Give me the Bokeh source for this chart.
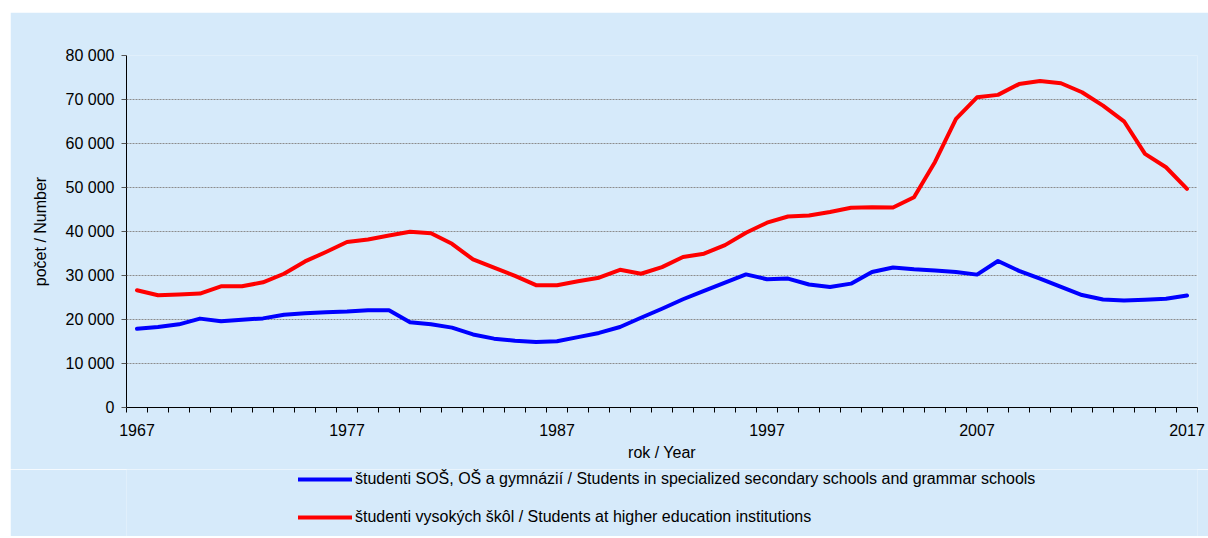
from bokeh.plotting import figure
from bokeh.layouts import column
from bokeh.models import Range1d, FixedTicker, Legend, LegendItem
from bokeh.embed import file_html
from bokeh.resources import INLINE

# ---- data ----
years = list(range(1967, 2018))
secondary = [17900, 18300, 18900, 20200, 19600, 19950, 20250, 21100, 21400, 21650,
             21800, 22100, 22100, 19400, 18900, 18150, 16600, 15650, 15150, 14900,
             15050, 16000, 16950, 18300, 20400, 22450, 24600, 26500, 28400, 30250,
             29150, 29300, 27950, 27400, 28150, 30800, 31800, 31400, 31150, 30800,
             30200, 33300, 31050, 29300, 27400, 25550, 24550, 24300, 24500, 24700,
             25450]
higher = [26650, 25500, 25700, 25900, 27550, 27550, 28450, 30400, 33200, 35350,
          37600, 38200, 39100, 39950, 39600, 37200, 33650, 31800, 29900, 27800,
          27800, 28700, 29500, 31300, 30400, 31900, 34200, 34950, 36900, 39700,
          42000, 43400, 43650, 44450, 45400, 45500, 45450, 47800, 55800, 65600,
          70500, 71050, 73500, 74200, 73700, 71650, 68600, 65050, 57650, 54600,
          49700]
x_label_years = [1967, 1977, 1987, 1997, 2007, 2017]
y_ticks = [0, 10000, 20000, 30000, 40000, 50000, 60000, 70000, 80000]
y_tick_labels = ["0", "10 000", "20 000", "30 000", "40 000", "50 000",
                 "60 000", "70 000", "80 000"]
series_names = [
    "študenti SOŠ, OŠ a gymnázií / Students in specialized secondary schools and grammar schools",
    "študenti vysokých škôl / Students at higher education institutions",
]
series_colors = ["#0000FF", "#FF0000"]
x_title = "rok / Year"
y_title = "počet / Number"

# ---- style ----
BG = "#D6EAFA"
FONT = "Liberation Sans"
FS = "16px"

p = figure(frame_width=1071, frame_height=352,
           x_range=Range1d(years[0] - 0.5, years[-1] + 0.5),
           y_range=Range1d(y_ticks[0], y_ticks[-1]),
           output_backend="svg", toolbar_location=None,
           min_border_left=116, min_border_right=11,
           min_border_top=43, min_border_bottom=62,
           background_fill_color=BG, border_fill_color=BG,
           outline_line_color=None, margin=(12, 0, 0, 10))

# x axis
xa = p.xaxis[0]
xa.ticker = FixedTicker(ticks=x_label_years,
                        minor_ticks=[y - 0.5 for y in years] + [years[-1] + 0.5])
xa.major_tick_out = 0
xa.major_tick_in = 0
xa.minor_tick_out = 5
xa.minor_tick_in = 0
xa.minor_tick_line_color = "black"
xa.axis_line_color = "black"
xa.major_label_standoff = 11
xa.major_label_text_font = FONT
xa.major_label_text_font_size = FS
xa.major_label_text_color = "black"
xa.axis_label = x_title
xa.axis_label_text_font = FONT
xa.axis_label_text_font_size = FS
xa.axis_label_text_font_style = "normal"
xa.axis_label_text_color = "black"
xa.axis_label_standoff = 5

# y axis
ya = p.yaxis[0]
ya.ticker = FixedTicker(ticks=y_ticks)
ya.major_label_overrides = {t: l for t, l in zip(y_ticks, y_tick_labels)}
ya.major_tick_out = 5
ya.major_tick_in = 0
ya.major_tick_line_color = "#555555"
ya.minor_tick_out = 0
ya.minor_tick_in = 0
ya.axis_line_color = "black"
ya.major_label_standoff = 7
ya.major_label_text_font = FONT
ya.major_label_text_font_size = FS
ya.major_label_text_color = "black"
ya.axis_label = y_title
ya.axis_label_text_font = FONT
ya.axis_label_text_font_size = FS
ya.axis_label_text_font_style = "normal"
ya.axis_label_text_color = "black"
ya.axis_label_standoff = 14

# grid
p.xgrid.visible = False
p.ygrid.ticker = FixedTicker(ticks=y_ticks[1:])
p.ygrid.grid_line_color = "#8C8C8C"
p.ygrid.grid_line_dash = "2 1"
p.ygrid.grid_line_width = 1

series_values = [secondary, higher]
for vals, c in zip(series_values, series_colors):
    p.line(years, vals, line_color=c, line_width=4,
           line_join="round", line_cap="round")

# ---- legend panel (separate strip below the chart) ----
pl = figure(width=1198, height=67, x_range=Range1d(0, 1), y_range=Range1d(0, 1),
            output_backend="svg", toolbar_location=None,
            x_axis_location=None, y_axis_location=None,
            min_border=0, min_border_left=0, min_border_right=0,
            min_border_top=0, min_border_bottom=0,
            background_fill_color=BG, border_fill_color=BG,
            outline_line_color=None, margin=(0, 0, 0, 10))
pl.xgrid.visible = False
pl.ygrid.visible = False
# key renderers: same series, lying outside this strip's ranges (only the legend keys show)
keys = [pl.line(years, vals, line_color=c, line_width=4, line_cap="round")
        for vals, c in zip(series_values, series_colors)]

legend = Legend(items=[LegendItem(label=n, renderers=[k])
                       for n, k in zip(series_names, keys)],
                location=(172, 9), orientation="vertical",
                padding=0, margin=0, spacing=18,
                glyph_width=54, glyph_height=20, label_height=20,
                label_standoff=3,
                border_line_color=None, background_fill_alpha=0,
                label_text_font=FONT, label_text_font_size=FS,
                label_text_color="black")
pl.add_layout(legend)

layout = column(p, pl, spacing=0)
open("out.html", "w").write(file_html(layout, INLINE))
